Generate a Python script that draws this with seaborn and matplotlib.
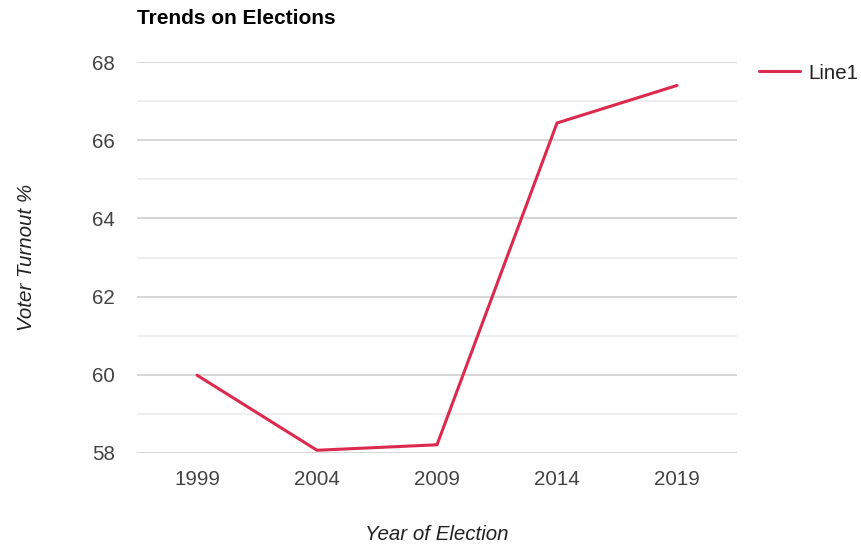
import matplotlib
matplotlib.use("Agg")
import matplotlib.pyplot as plt
import seaborn as sns
import pandas as pd
from matplotlib.ticker import MultipleLocator

years = ["1999", "2004", "2009", "2014", "2019"]
turnout = [59.99, 58.07, 58.21, 66.44, 67.40]
series_name = "Line1"

df = pd.DataFrame({"Year": years, "Turnout": turnout, "Series": series_name})

sns.set_theme(style="white")
plt.rcParams["font.family"] = ["Liberation Sans", "DejaVu Sans"]

fig = plt.figure(figsize=(8.61, 5.44), dpi=100)
ax = fig.add_axes([137/861, 1-453/544, 600/861, 391/544])

sns.lineplot(data=df, x="Year", y="Turnout", hue="Series", palette=["#dc2a4e"],
             linewidth=2.2, ax=ax, sort=False)

ax.set_xlim(-0.5, 4.5)
ax.set_ylim(58, 68)
ax.yaxis.set_major_locator(MultipleLocator(2))
ax.yaxis.set_minor_locator(MultipleLocator(1))
ax.grid(which="major", axis="y", color="#cccccc", linewidth=1.1)
ax.grid(which="minor", axis="y", color="#ebebeb", linewidth=1.1)
ax.set_axisbelow(True)
for s in ax.spines.values():
    s.set_visible(False)
ax.tick_params(axis="both", which="both", length=0, labelsize=14.8, colors="#444444")
ax.tick_params(axis="y", pad=16)
ax.tick_params(axis="x", pad=12)

ax.set_xlabel("Year of Election", fontsize=14.8, style="italic", color="#222222", labelpad=26)
ax.set_ylabel("Voter Turnout %", fontsize=14.8, style="italic", color="#222222", labelpad=40)

fig.text(137/861, 1-18/544, "Trends on Elections", fontsize=15, fontweight="bold",
         color="#000000", va="center", ha="left")

leg = ax.legend(loc="upper left", bbox_to_anchor=(1.006, 1.043), frameon=False,
                fontsize=14.8, handlelength=2.0, handletextpad=0.4)
for t in leg.get_texts():
    t.set_color("#222222")

fig.savefig("out.png", dpi=100)
